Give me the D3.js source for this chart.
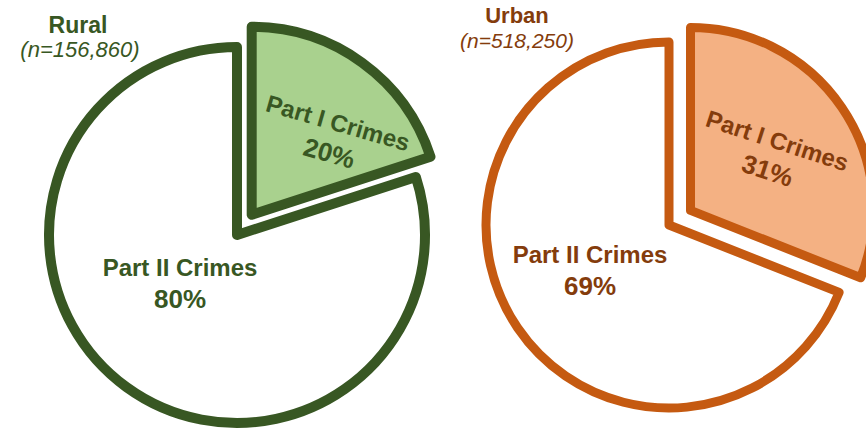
<!DOCTYPE html>
<html>
<head>
<meta charset="utf-8">
<script src="https://cdn.jsdelivr.net/npm/d3@7"></script>
<style>
  body { margin: 0; background: #fff; }
  svg text { font-family: "Liberation Sans", Arial, sans-serif; }
</style>
</head>
<body>
<div id="chart"></div>
<script>
// data
const groups = ['Rural', 'Urban'];
const counts = [156860, 518250];
const categories = ['Part I Crimes', 'Part II Crimes'];
const ruralShares = [20, 80];
const urbanShares = [31, 69];

// layout / style for each pie
const layout = [
  { cx: 237, cy: 235, r: 188, sw: 10, explode: 25,
    stroke: '#385723', fill: '#a9d18e', text: '#385723',
    title: [78, 33, 23], sub: [80, 57, 22],
    lab1: [82, -77, 16], lab2: [-57, 48] },
  { cx: 669, cy: 225, r: 183, sw: 9, explode: 26,
    stroke: '#c55a11', fill: '#f4b183', text: '#843c0c',
    title: [517, 23, 22], sub: [517, 48, 21],
    lab1: [82, -55, 18], lab2: [-79, 45] }
];

const width = 866, height = 430;
const svg = d3.select('#chart').append('svg')
  .attr('width', width)
  .attr('height', height);

const pie = d3.pie().sort(null).value(d => d);
const fmt = d3.format(',');

[ruralShares, urbanShares].forEach(function(shares, i) {
  const L = layout[i];
  const arc = d3.arc().innerRadius(0).outerRadius(L.r);
  const slices = pie(shares);

  const g = svg.append('g')
    .attr('transform', 'translate(' + L.cx + ',' + L.cy + ')');

  // draw Part II first, then exploded Part I on top
  [1, 0].forEach(function(k) {
    const d = slices[k];
    const mid = (d.startAngle + d.endAngle) / 2;
    const e = k === 0 ? L.explode : 0;
    const ox = Math.sin(mid) * e, oy = -Math.cos(mid) * e;
    const sg = g.append('g').attr('transform', 'translate(' + ox + ',' + oy + ')');
    sg.append('path')
      .attr('d', arc(d))
      .attr('fill', k === 0 ? L.fill : '#fff')
      .attr('stroke', L.stroke)
      .attr('stroke-width', L.sw)
      .attr('stroke-linejoin', 'round');

    const lab = k === 0 ? L.lab1 : L.lab2;
    const t = sg.append('text')
      .attr('transform', 'translate(' + lab[0] + ',' + lab[1] + ') rotate(' + (lab[2] || 0) + ')')
      .attr('text-anchor', 'middle')
      .attr('fill', L.text)
      .attr('font-weight', 'bold');
    t.append('tspan').attr('x', 0).attr('y', -7)
      .attr('font-size', 24).text(categories[k]);
    t.append('tspan').attr('x', 0).attr('y', 25)
      .attr('font-size', 26).text(shares[k] + '%');
  });

  // titles
  svg.append('text')
    .attr('x', L.title[0]).attr('y', L.title[1])
    .attr('text-anchor', 'middle')
    .attr('font-size', L.title[2]).attr('font-weight', 'bold')
    .attr('fill', L.text)
    .text(groups[i]);
  svg.append('text')
    .attr('x', L.sub[0]).attr('y', L.sub[1])
    .attr('text-anchor', 'middle')
    .attr('font-size', L.sub[2]).attr('font-style', 'italic')
    .attr('fill', L.text)
    .text('(n=' + fmt(counts[i]) + ')');
});
</script>
</body>
</html>
